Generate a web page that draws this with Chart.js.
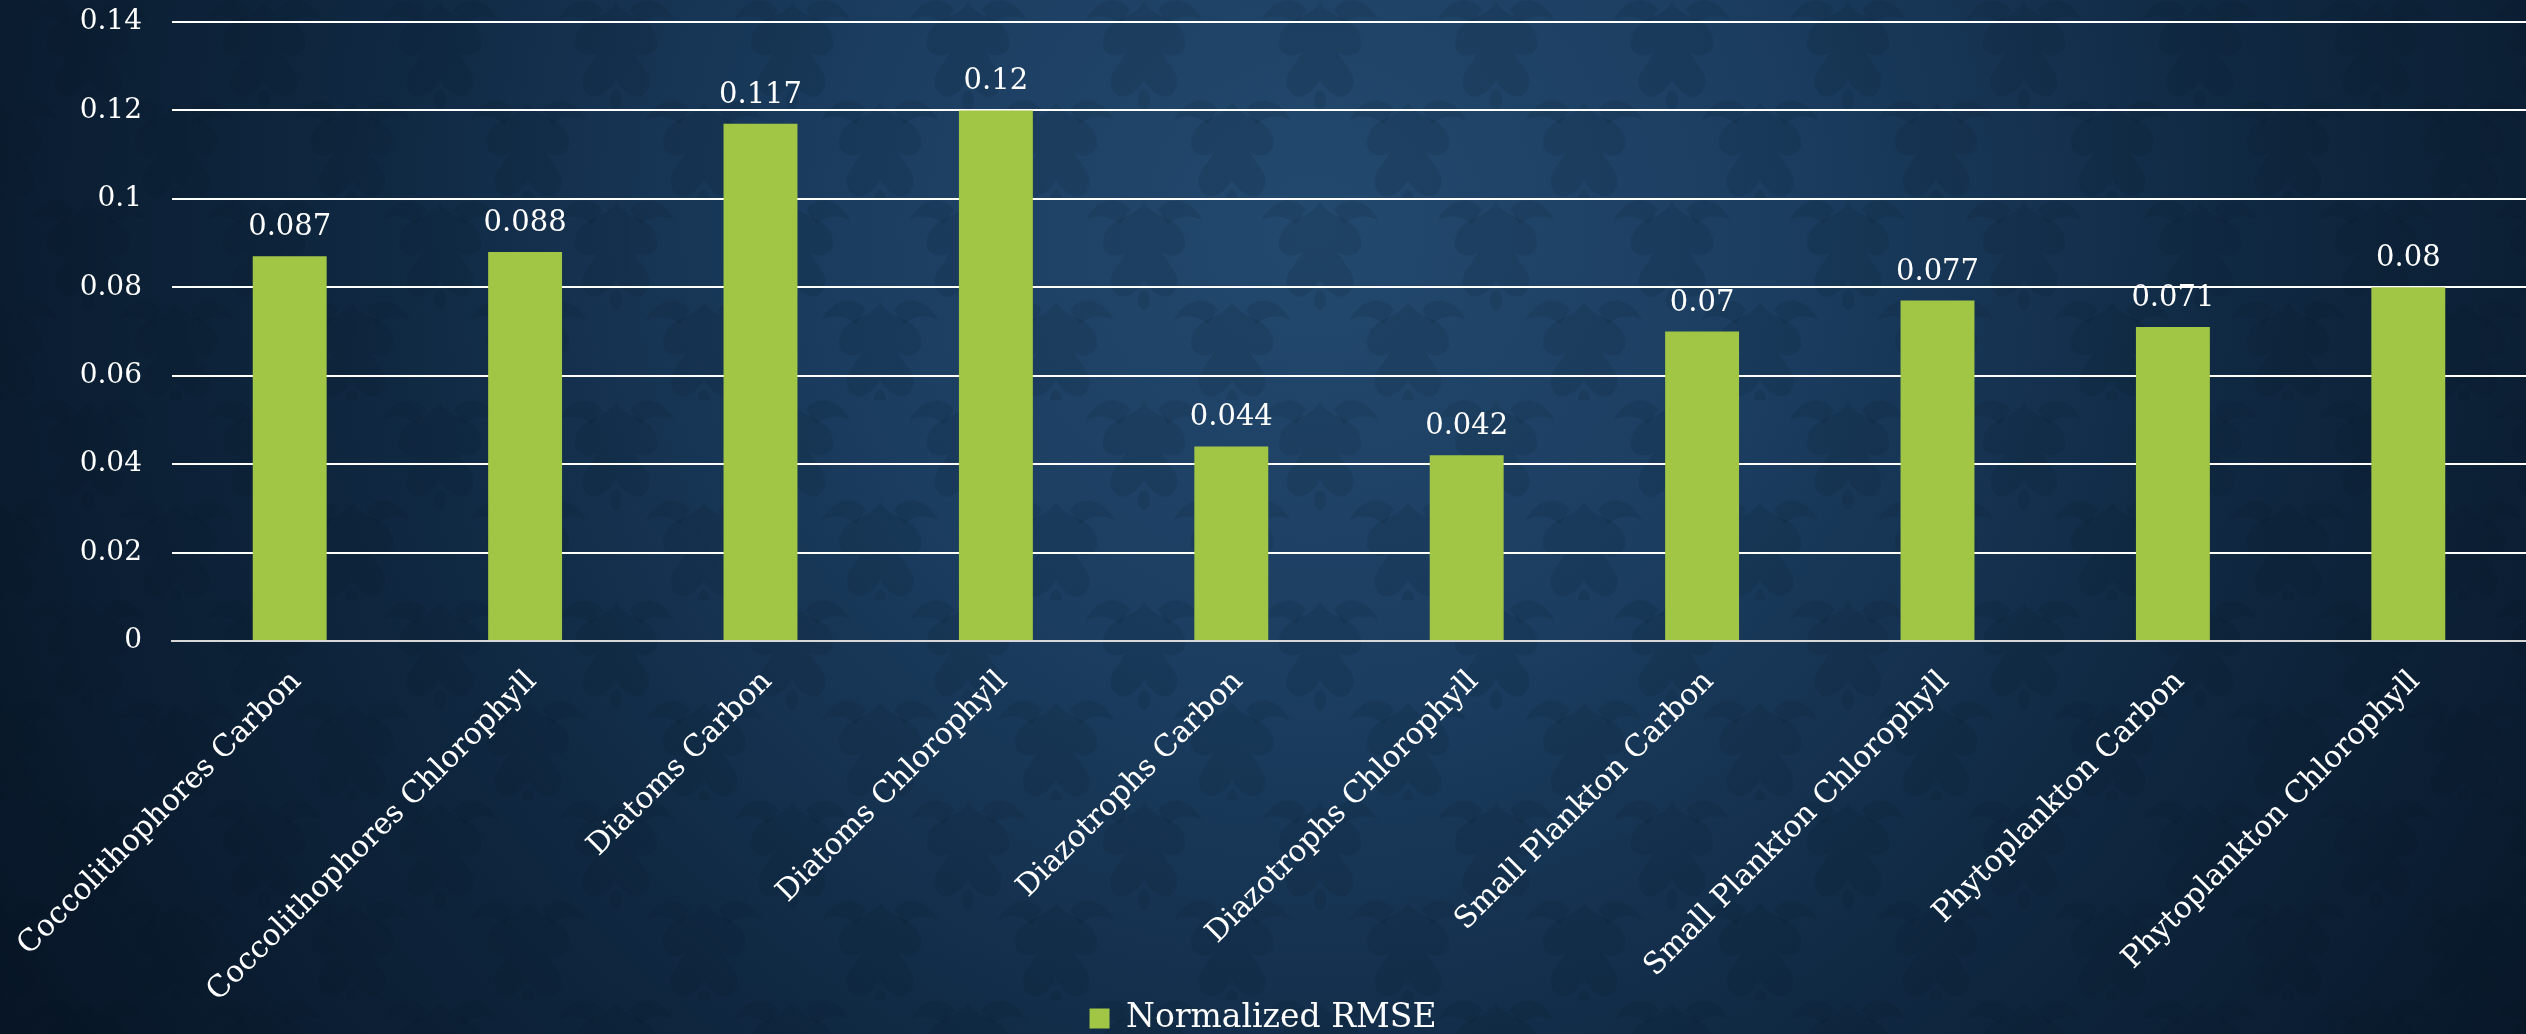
<!DOCTYPE html>
<html>
<head>
<meta charset="utf-8">
<title>Normalized RMSE</title>
<script src="https://cdn.jsdelivr.net/npm/chart.js@4.4.1/dist/chart.umd.min.js"></script>
<style>
  html, body {
    margin: 0;
    padding: 0;
    width: 2526px;
    height: 1034px;
    overflow: hidden;
    background: #0b1c2e;
  }
  #wrap {
    position: relative;
    width: 2526px;
    height: 1034px;
  }
</style>
</head>
<body>
<div id="wrap"><canvas id="rmseChart"></canvas></div>
<script>
const categories = [
    'Coccolithophores Carbon',
    'Coccolithophores Chlorophyll',
    'Diatoms Carbon',
    'Diatoms Chlorophyll',
    'Diazotrophs Carbon',
    'Diazotrophs Chlorophyll',
    'Small Plankton Carbon',
    'Small Plankton Chlorophyll',
    'Phytoplankton Carbon',
    'Phytoplankton Chlorophyll'
];
const rmseValues = [0.087, 0.088, 0.117, 0.12, 0.044, 0.042, 0.07, 0.077, 0.071, 0.08];
const yTicks = [0, 0.02, 0.04, 0.06, 0.08, 0.1, 0.12, 0.14];
const yTickLabels = ['0', '0.02', '0.04', '0.06', '0.08', '0.1', '0.12', '0.14'];

const FONT = '"DejaVu Serif", "Liberation Serif", serif';
const BAR_GREEN = '#a1c645';

// small damask-ish tile, repeated over the backdrop
function makeDamaskTile() {
    const w = 176, h = 200;
    const c = document.createElement('canvas');
    c.width = w;
    c.height = h;
    const g = c.getContext('2d');
    g.fillStyle = 'rgba(3, 14, 28, 0.11)';
    const motif = (cx, cy) => {
        g.save();
        g.translate(cx, cy);
        for (const s of [1, -1]) {
            g.save();
            g.scale(s, 1);
            g.beginPath();
            g.moveTo(0, -48);
            g.bezierCurveTo(10, -30, 34, -34, 40, -14);
            g.bezierCurveTo(46, 4, 28, 10, 18, 2);
            g.bezierCurveTo(26, 18, 40, 26, 30, 42);
            g.bezierCurveTo(20, 54, 6, 40, 0, 30);
            g.closePath();
            g.fill();
            g.beginPath();
            g.moveTo(14, -40);
            g.bezierCurveTo(30, -60, 52, -44, 58, -30);
            g.bezierCurveTo(46, -36, 34, -34, 24, -26);
            g.closePath();
            g.fill();
            g.restore();
        }
        g.beginPath();
        g.ellipse(0, 50, 6, 10, 0, 0, Math.PI * 2);
        g.fill();
        g.restore();
    };
    motif(w / 2, h / 4);
    motif(0, h * 3 / 4);
    motif(w, h * 3 / 4);
    return c;
}

// paints the navy backdrop before anything else
const backdrop = {
    id: 'backdrop',
    beforeDraw(chart) {
        const { ctx, width, height } = chart;
        ctx.save();
        const grad = ctx.createRadialGradient(width * 0.52, height * 0.22, 0, width * 0.52, height * 0.22, width * 0.62);
        grad.addColorStop(0, '#23496e');
        grad.addColorStop(0.3, '#1b3d60');
        grad.addColorStop(0.62, '#0f2740');
        grad.addColorStop(1, '#071424');
        ctx.fillStyle = grad;
        ctx.fillRect(0, 0, width, height);
        ctx.fillStyle = ctx.createPattern(makeDamaskTile(), 'repeat');
        ctx.fillRect(0, 0, width, height);
        ctx.restore();
    }
};

// writes each bar's value just above it
const valueLabels = {
    id: 'valueLabels',
    afterDatasetsDraw(chart) {
        const ctx = chart.ctx;
        const meta = chart.getDatasetMeta(0);
        ctx.save();
        ctx.font = '29px ' + FONT;
        ctx.fillStyle = '#ffffff';
        ctx.textAlign = 'center';
        ctx.textBaseline = 'bottom';
        meta.data.forEach((bar, i) => {
            ctx.fillText(String(rmseValues[i]), bar.x, bar.y - 14);
        });
        ctx.restore();
    }
};

const ctx = document.getElementById('rmseChart').getContext('2d');
const chart = new Chart(ctx, {
    type: 'bar',
    data: {
        labels: categories,
        datasets: [{
            label: 'Normalized RMSE',
            data: rmseValues,
            backgroundColor: BAR_GREEN,
            borderWidth: 0,
            categoryPercentage: 1,
            barPercentage: 0.314
        }]
    },
    options: {
        responsive: true,
        maintainAspectRatio: false,
        animation: false,
        layout: {
            padding: { top: 22, left: 0, right: 0, bottom: -11 }
        },
        scales: {
            x: {
                grid: { display: false },
                border: { display: true, color: '#d8d8d8', width: 2 },
                ticks: {
                    color: '#ffffff',
                    font: { family: FONT, size: 30 },
                    minRotation: 45,
                    maxRotation: 45,
                    padding: 15,
                    labelOffset: 7,
                    autoSkip: false
                },
                afterFit(scale) {
                    scale.height = 361;
                    scale.paddingLeft = 0;
                    scale.paddingRight = 0;
                }
            },
            y: {
                min: 0,
                max: 0.14,
                border: { display: false },
                grid: {
                    color: (c) => c.tick && c.tick.value === 0 ? '#d8d8d8' : '#ffffff',
                    lineWidth: 2,
                    drawTicks: false
                },
                afterBuildTicks(scale) {
                    scale.ticks = yTicks.map(v => ({ value: v }));
                },
                ticks: {
                    color: '#ffffff',
                    font: { family: FONT, size: 28 },
                    padding: 30,
                    callback: (value, index) => yTickLabels[index]
                },
                afterFit(scale) {
                    scale.width = 172;
                    scale.paddingTop = 0;
                    scale.paddingBottom = 0;
                }
            }
        },
        plugins: {
            legend: {
                display: true,
                position: 'bottom',
                labels: {
                    color: '#ffffff',
                    font: { family: FONT, size: 33 },
                    boxWidth: 20,
                    boxHeight: 20,
                    padding: 0
                }
            },
            tooltip: { enabled: false }
        }
    },
    plugins: [backdrop, valueLabels]
});
</script>
</body>
</html>
